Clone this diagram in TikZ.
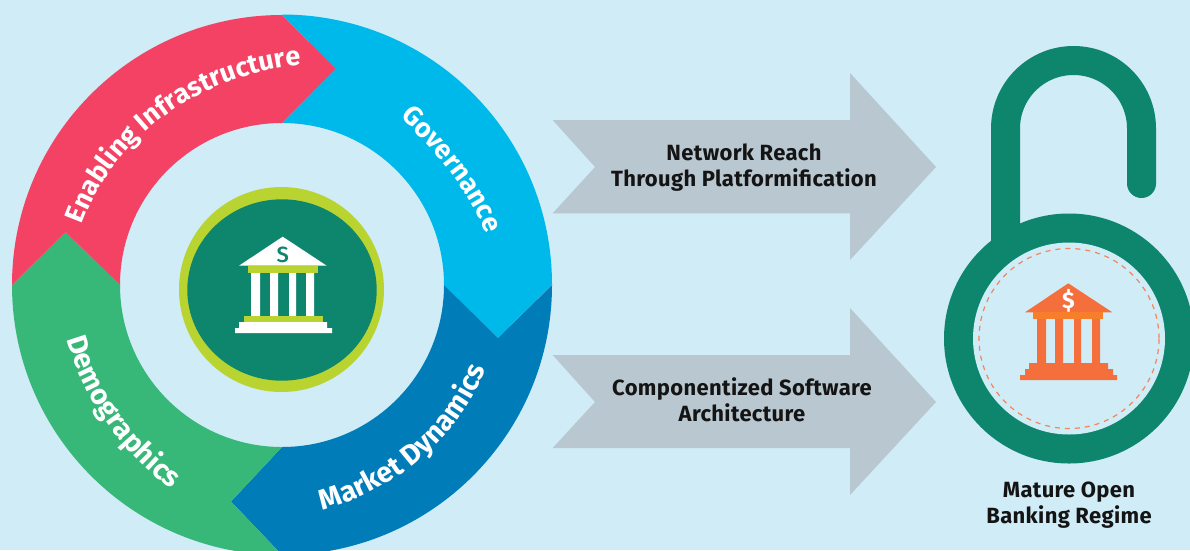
\documentclass[tikz,border=0pt]{standalone}
\usepackage{fontspec}
\setmainfont{Fira Sans}
\newfontfamily\lblfont{Fira Sans Bold}
\newfontfamily\medfont{Fira Sans Medium}
\newfontfamily\capfont[LetterSpace=1.6]{Fira Sans Bold}
\usetikzlibrary{decorations.text}
\definecolor{bgc}{HTML}{CFECF7}
\definecolor{pinkc}{HTML}{F34264}
\definecolor{cyanc}{HTML}{00B9EB}
\definecolor{navyc}{HTML}{007CB8}
\definecolor{greenc}{HTML}{37B879}
\definecolor{tealc}{HTML}{0E856D}
\definecolor{limec}{HTML}{B9D431}
\definecolor{greyc}{HTML}{B8C7D0}
\definecolor{orangec}{HTML}{F46F3C}
\definecolor{orange2}{HTML}{F77F2B}
\tikzset{
  flowarrow/.style={fill=greyc,draw=none},
  cap label/.style={font=\capfont\fontsize{22}{26}\selectfont,align=center,text=black!92,inner sep=0pt},
}
\newcommand{\ringtext}[3]{\path[decorate,decoration={text along path,text color=white,text align=left,
   text={|\lblfont\fontsize{#1}{#1}\selectfont|#2}}] #3;}
\begin{document}
\begin{tikzpicture}[x=1pt,y=-1pt]
\useasboundingbox (0,0) rectangle (1190,550);
\fill[bgc] (0,0) rectangle (1190,550);
% ring segments
\fill[cyanc] (282,14.5) arc[start angle=90,end angle=0,radius=270pt] -- (498,338) -- (444,285) arc[start angle=0,end angle=90,radius=162pt] -- (336,68.5) -- cycle;
\fill[navyc] (552,285) arc[start angle=0,end angle=-90,radius=270pt] -- (231,501.5) -- (282,447) arc[start angle=-90,end angle=0,radius=162pt] -- (498,338) -- cycle;
\fill[greenc] (12,285) arc[start angle=180,end angle=270,radius=270pt] -- (231,501.5) -- (282,447) arc[start angle=270,end angle=180,radius=162pt] -- (65.5,232) -- cycle;
\fill[pinkc] (12,285) arc[start angle=180,end angle=90,radius=270pt] -- (336,68.5) -- (282,123) arc[start angle=90,end angle=180,radius=162pt] -- (65.5,232) -- cycle;
% ring labels
\ringtext{27}{Enabling Infrastructure}{(82,225) .. controls (114,136) and (199,77.5) .. (293,66) -- (345,60)}
\ringtext{27}{Governance}{(400,117) .. controls (434.5,150) and (467.7,187.4) .. (485,232) -- (505,285)}
\ringtext{28.5}{Market Dynamics}{(322.7,510.7) .. controls (395,490) and (461,438) .. (487,365) -- (505,310)}
\ringtext{28.5}{Demographics}{(66.5,339) .. controls (84,398.5) and (120.4,450.8) .. (170,488) -- (225,525)}
% centre emblem
\fill[limec] (281.5,289.5) circle[radius=102.5pt];
\fill[tealc] (282,290) ellipse[x radius=94.7pt,y radius=90.7pt];
\fill[white] (239,265.7) -- (282.7,236.7) -- (326.7,265.7) -- cycle;
\fill[limec] (248,265.7) rectangle (318,273);
\fill[white] (251,273) rectangle (260,316) (270,273) rectangle (278,316) (289,273) rectangle (296,316) (306,273) rectangle (314,316);
\fill[limec] (244,316) rectangle (323,322);
\fill[white] (239,322) rectangle (327,328) (235,328) rectangle (332,333);
\node[inner sep=0pt,text=tealc,font=\medfont\fontsize{22}{22}\selectfont] (bankS) at (282.7,255) {S};
% arrows
\fill[flowarrow] (552.7,120) -- (850,120) -- (850,73) -- (936,167) -- (850,260) -- (850,213.3) -- (552.7,213.3) -- (595,167) -- cycle;
\fill[flowarrow] (552.7,355) -- (850,355) -- (850,308) -- (936,402) -- (850,495) -- (850,448) -- (552.7,448) -- (595,402) -- cycle;
\node[cap label] (t1) at (744,167.5) {Network Reach\hspace{5pt}\\Through Platformification};
\node[cap label] (t2) at (742,400) {Componentized Software\\Architecture};
% lock
\draw[tealc,line width=29pt,line cap=round] (1005.5,250) -- (1005.5,128.5) arc[start angle=180,end angle=0,radius=68pt] -- (1141.5,183.5);
\fill[tealc] (1069,338.5) circle[radius=125pt];
\fill[bgc] (1069,338.5) circle[radius=96pt];
\draw[orangec!85,line width=1.2pt,dash pattern=on 5pt off 5pt] (1069,338.5) circle[radius=90pt];
\fill[orangec] (1025,312.3) -- (1068.3,283.3) -- (1112.3,312.3) -- cycle;
\fill[orange2] (1033,312.3) rectangle (1103,319);
\fill[orangec] (1037,319) rectangle (1046,364) (1055,319) rectangle (1063,364) (1074,319) rectangle (1081,364) (1092,319) rectangle (1100,364);
\fill[orangec] (1029,363) rectangle (1108,369) (1025,369) rectangle (1113,375) (1020,375) rectangle (1117,380);
\node[inner sep=0pt,text=white,font=\lblfont\fontsize{23}{23}\selectfont] (bankD) at (1068.5,300.5) {\$};
\node[cap label] (t3) at (1069,505) {Mature Open\\Banking Regime};
\end{tikzpicture}
\end{document}
